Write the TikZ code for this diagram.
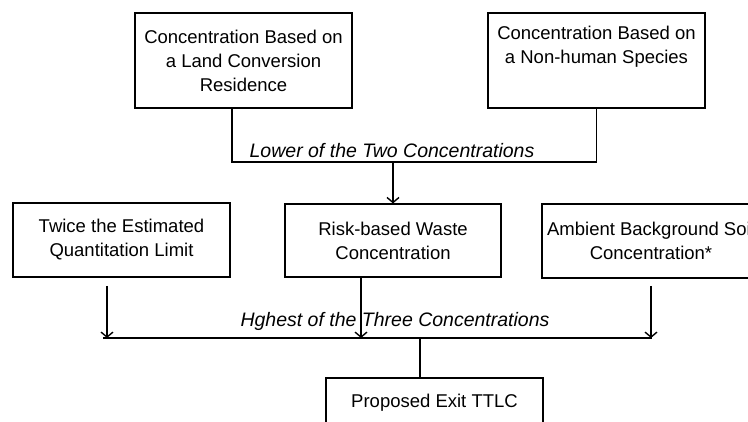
\documentclass[tikz,border=0pt]{standalone}
\usepackage{fontspec}
\setmainfont{Liberation Sans}
\usetikzlibrary{arrows.meta}

\tikzset{
  box/.style={draw, line width=1.2pt, rectangle, inner sep=0pt, align=center,
              font=\fontsize{18.5}{24}\selectfont},
  lbl/.style={font=\fontsize{19.5}{23}\selectfont\itshape, anchor=base, inner sep=0pt},
  wire/.style={line width=1.2pt},
  arr/.style={line width=1.2pt, -{Straight Barb[length=5pt,width=12pt,line width=1.4pt]}}
}

\begin{document}
\begin{tikzpicture}[x=1pt,y=-1pt]
  \useasboundingbox (0,0) rectangle (748,422);
  \clip (0,0) rectangle (748,422);
  \fill[white] (0,0) rectangle (748,422);

  % upper pair of concentrations
  \node[box, minimum width=217, minimum height=95] (land) at (243.5,60.5)
    {Concentration Based on\\a Land Conversion\\Residence};
  \node[box, minimum width=217, minimum height=95] (species) at (596.5,60.5)
    {Concentration Based on\\a Non-human Species\\\strut};

  % middle row
  \node[box, minimum width=217, minimum height=74] (eql) at (121.5,240)
    {Twice the Estimated\\Quantitation Limit};
  \node[box, minimum width=216, minimum height=73] (risk) at (393,240.5)
    {Risk-based Waste\\Concentration};
  \node[box, minimum width=218, minimum height=74] (ambient) at (651,241)
    {Ambient Background Soil\\Concentration*};

  % result
  \node[box, minimum width=217, minimum height=50] (ttlc) at (434.5,403)
    {Proposed Exit TTLC};

  % lower of the two
  \coordinate (m1) at (232,162);
  \coordinate (m2) at (596.5,162);
  \coordinate (j1) at (393,162);
  \draw[wire] (land.south -| m1) -- (m1) -- (m2) -- (species.south);
  \node[lbl] (lower) at (392,158) {Lower of the Two Concentrations};
  \draw[arr] (j1) -- (risk.north);

  % highest of the three
  \coordinate (h1) at (103,338);
  \coordinate (h2) at (652,338);
  \coordinate (a1) at (107,286);
  \coordinate (a2) at (361,338);
  \coordinate (a3) at (651,286);
  \coordinate (j2) at (420,338);
  \draw[wire] (h1) -- (h2);
  \draw[arr] (a1) -- (a1 |- h1);
  \draw[arr] (risk.south -| a2) -- (a2);
  \draw[arr] (a3) -- (a3 |- h1);
  \node[lbl] (highest) at (395,327) {Hghest of the Three Concentrations};
  \draw[wire] (j2) -- (ttlc.north -| j2);
\end{tikzpicture}
\end{document}
